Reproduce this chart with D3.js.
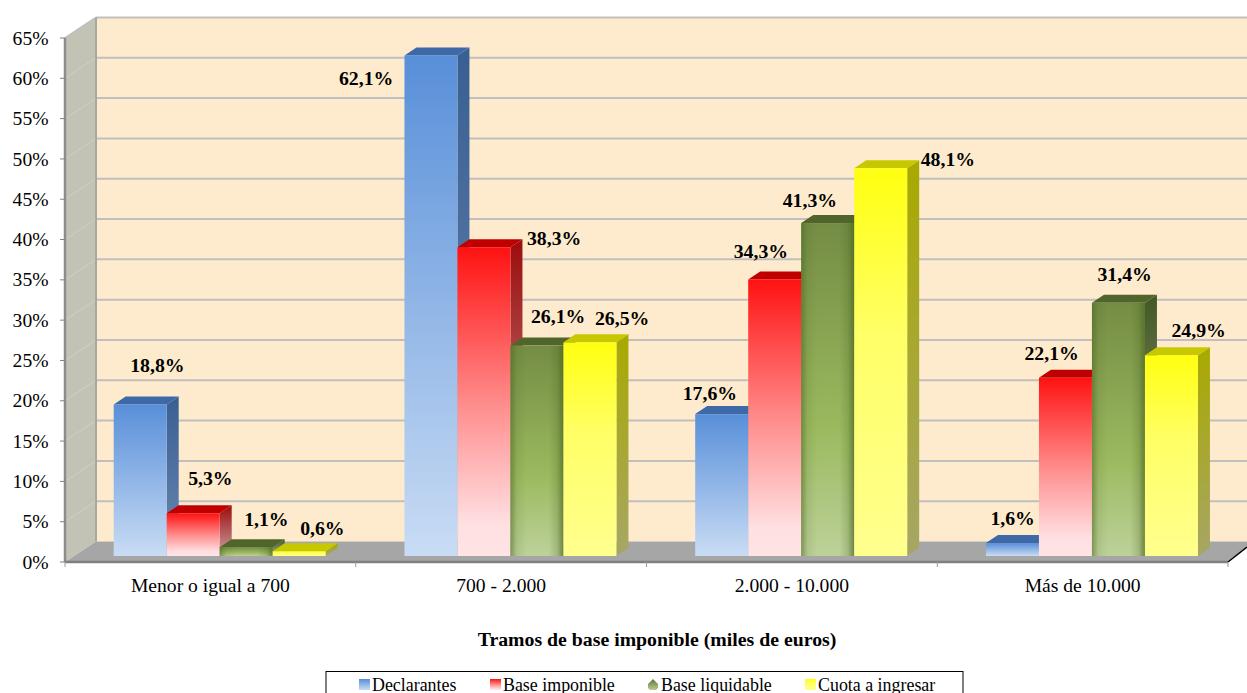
<!DOCTYPE html>
<html><head><meta charset="utf-8">
<script src="https://cdn.jsdelivr.net/npm/d3@7/dist/d3.min.js"></script>
<style>html,body{margin:0;padding:0;background:#fff;overflow:hidden}svg{display:block}text{font-family:"Liberation Serif","Times New Roman",serif;fill:#000}</style>
</head><body><svg id="c" width="1247" height="693"></svg>
<script>
const categories = ["Menor o igual a 700","700 - 2.000","2.000 - 10.000","Más de 10.000"];
const seriesNames = ["Declarantes","Base imponible","Base liquidable","Cuota a ingresar"];
const declarantes = [18.8,62.1,17.6,1.6];
const baseImponible = [5.3,38.3,34.3,22.1];
const baseLiquidable = [1.1,26.1,41.3,31.4];
const cuotaIngresar = [0.6,26.5,48.1,24.9];
const yTicks = d3.range(0,70,5);
const xAxisTitle = "Tramos de base imponible (miles de euros)";

const series = [declarantes,baseImponible,baseLiquidable,cuotaIngresar];
// label placement relative to the top centre of each bar's front face
const labelOffsets = [
 [[17.5,-38.5],[-64.5,23.5],[-11.5,-21],[0.5,-25]],
 [[17.5,-35],[70.5,-8.3],[-13.5,-28.5],[-13.5,-24]],
 [[20.5,-28],[21.5,-29.6],[-17.5,-23],[6.5,-28]],
 [[23.5,-23],[32.5,-24.4],[67.5,-8.3],[27.5,-25.3]]
];
const styles = [
 {front:["#588fd9","#c9dcf4"],side:["#395f92","#6b88b2"],top:"#3d6aa6"},
 {front:[["#ff1212",0],["#ff8f8f",.52],["#ffe0e2",.9],["#ffe3e5",1]],side:["#9c0c0c","#c9a5a5"],top:"#c00000"},
 {front:[["#748c44",0],["#9bba5f",.62],["#bdd19a",1]],side:["#435726","#a3ae88"],top:"#4f6529"},
 {front:[["#ffff10",0],["#ffff66",.42],["#ffff8e",1]],side:["#a9a900","#a6a666"],top:"#c8c800"}
];
const svg = d3.select("#c"), defs = svg.append("defs");
const W=1247, L=65, R=1228;
const y = d3.scaleLinear().domain([0,65]).range([562,38]);
const x0 = d3.scaleBand().domain(categories).range([L,R]);
const x1 = d3.scaleBand().domain(seriesNames).range([48.7,260.7]);
const wallDx=31, wallDy=-20.5, barDx=12, barDy=-8, planeDy=-6;

function grad(id,c,hor){const g=defs.append("linearGradient").attr("id",id).attr("x1",0).attr("y1",0).attr("x2",hor?1:0).attr("y2",hor?0:1);
 c.forEach((s,i)=>g.append("stop").attr("offset",Array.isArray(s)?s[1]:i/(c.length-1)).attr("stop-color",Array.isArray(s)?s[0]:s).attr("stop-opacity",Array.isArray(s)&&s[2]!==undefined?s[2]:1));}
styles.forEach((s,i)=>{grad("f"+i,s.front);grad("s"+i,s.side);});
grad("gh",[["#4a6420",0,.55],["#4a6420",.12,.12],["#4a6420",.3,0],["#4a6420",.72,0],["#4a6420",.88,.22],["#4a6420",1,.7]],true);
const poly=(p,fill,par=svg)=>par.append("polygon").attr("points",p.map(d=>d.join(",")).join(" ")).attr("fill",fill);

// walls & floor
const y0=y(0), yT=y(65);
poly([[L,yT],[L+wallDx,yT+wallDy],[L+wallDx,y0+wallDy],[L,y0]],"#c3c3b5");
svg.append("rect").attr("x",L+wallDx).attr("y",yT+wallDy).attr("width",W-L-wallDx).attr("height",y0-yT).attr("fill","#feebcd");
poly([[L,y0],[L+wallDx,y0+wallDy],[W,y0+wallDy],[W,y0-15],[R,y0]],"#a6a6a6");
yTicks.forEach(t=>{
 if(t>0) svg.append("line").attr("x1",L+wallDx).attr("x2",W).attr("y1",y(t)+wallDy).attr("y2",y(t)+wallDy).attr("stroke","#bfbfbf").attr("stroke-width",2);
 if(t>0&&t<65) svg.append("line").attr("x1",L).attr("x2",L+wallDx).attr("y1",y(t)).attr("y2",y(t)+wallDy).attr("stroke","#cfcfc4").attr("stroke-width",1);
});
svg.append("line").attr("x1",L).attr("x2",L+wallDx).attr("y1",yT).attr("y2",yT+wallDy).attr("stroke","#bfbfbf").attr("stroke-width",2);
svg.append("line").attr("x1",L+wallDx).attr("x2",L+wallDx).attr("y1",yT+wallDy).attr("y2",y0+wallDy).attr("stroke","#a8a8a0").attr("stroke-width",2);

// bars
const base=y0+planeDy, bw=x1.bandwidth();
categories.forEach((c,ci)=>{
 series.forEach((vals,si)=>{
  const v=vals[ci], xl=x0(c)+x1(seriesNames[si]), xr=xl+bw, t=y(v)+planeDy, g=svg.append("g");
  poly([[xr,t],[xr+barDx,t+barDy],[xr+barDx,base+barDy],[xr,base]],`url(#s${si})`,g);
  poly([[xl,t],[xl+barDx,t+barDy],[xr+barDx,t+barDy],[xr,t]],styles[si].top,g);
  g.append("rect").attr("x",xl).attr("y",t).attr("width",bw).attr("height",base-t).attr("fill",`url(#f${si})`);
  if(si===2) g.append("rect").attr("x",xl).attr("y",t).attr("width",bw).attr("height",base-t).attr("fill","url(#gh)");
 });
});
// labels
categories.forEach((c,ci)=>series.forEach((vals,si)=>{
 const o=labelOffsets[si][ci], v=vals[ci];
 svg.append("text").attr("x",x0(c)+x1(seriesNames[si])+bw/2+o[0]-0.3).attr("y",y(v)+planeDy+o[1]).attr("dy","0.33em")
  .attr("text-anchor","middle").attr("font-size",19.8).attr("font-weight","bold").text(String(v).replace(".",",")+"%");
}));

// axes
const ax=svg.append("g");
ax.append("line").attr("x1",L).attr("x2",L).attr("y1",yT).attr("y2",y0).attr("stroke","#8c8c8c").attr("stroke-width",2.5);
ax.append("line").attr("x1",L).attr("x2",R).attr("y1",y0).attr("y2",y0).attr("stroke","#808080").attr("stroke-width",2.5);
ax.append("line").attr("x1",R).attr("x2",W).attr("y1",y0).attr("y2",y0-15).attr("stroke","#000").attr("stroke-width",1.5);
yTicks.forEach(t=>{
 ax.append("line").attr("x1",L-5).attr("x2",L).attr("y1",y(t)).attr("y2",y(t)).attr("stroke","#808080");
 ax.append("text").attr("x",48.5).attr("y",y(t)+0.7).attr("dy","0.3em").attr("text-anchor","end").attr("font-size",19.6).text(t+"%");
});
x0.domain().concat([null]).forEach((c,i)=>{const xp=c?x0(c):R;
 ax.append("line").attr("x1",xp).attr("x2",xp).attr("y1",y0).attr("y2",y0+5).attr("stroke","#9a9a9a");
 if(c) ax.append("text").attr("x",xp+x0.bandwidth()/2).attr("y",592).attr("text-anchor","middle").attr("font-size",19.6).text(c);
});
svg.append("text").attr("x",657).attr("y",646).attr("text-anchor","middle").attr("font-size",19.8).attr("font-weight","bold").text(xAxisTitle);

// legend
svg.append("rect").attr("x",326).attr("y",671.5).attr("width",637).attr("height",30).attr("fill","#fff").attr("stroke","#000");
const legX=[359,490,648,805];
seriesNames.forEach((n,i)=>{
 const g=svg.append("g").attr("transform",`translate(${legX[i]},679)`);
 if(i===2) g.append("path").attr("d",d3.line().curve(d3.curveLinearClosed)([[5,0],[10,5],[10,9],[8,11],[2,11],[0,9],[0,5]])).attr("fill","url(#lg)");
 else g.append("rect").attr("width",11).attr("height",11).attr("fill",`url(#f${i})`);
 svg.append("text").attr("x",legX[i]+13).attr("y",690.5).attr("font-size",17.9).text(n);
});
grad("lg",["#5e7a33","#b9cc96"]);
</script></body></html>
